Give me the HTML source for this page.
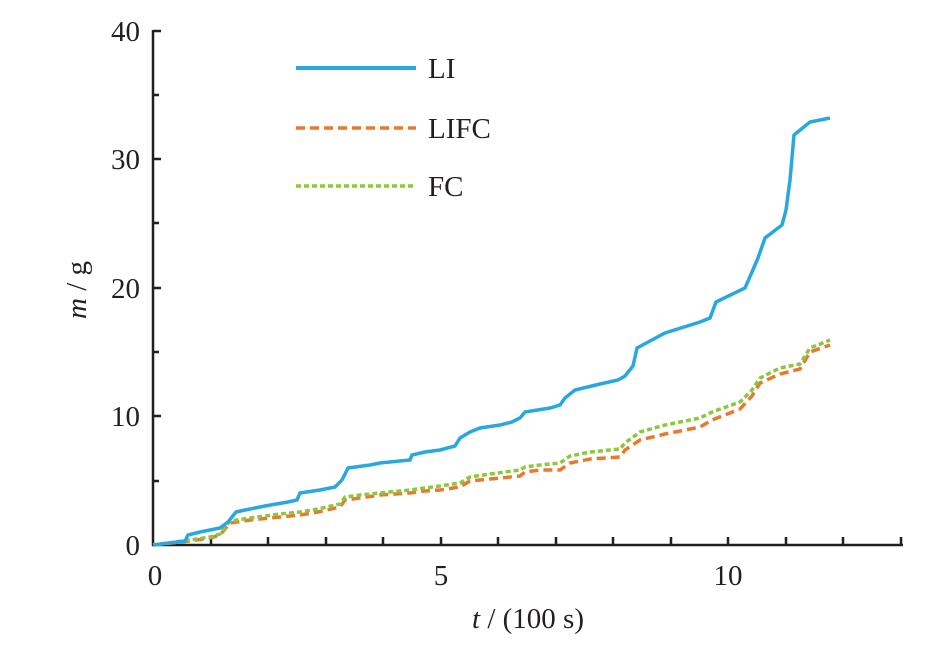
<!DOCTYPE html>
<html><head><meta charset="utf-8"><style>
body{margin:0;background:#fff}
text{font-family:"Liberation Serif",serif;fill:#231f20}
</style></head><body>
<svg width="938" height="660" viewBox="0 0 938 660">
<g stroke="#231f20" stroke-width="2.5" fill="none">
<line x1="153" y1="30" x2="153" y2="546"/>
<line x1="152" y1="545" x2="903" y2="545"/>
<path d="M153 31h8M153 95h6M153 159h8M153 223h6M153 288h8M153 352h6M153 416h8M153 481h6"/>
<path d="M211 545v-8M268 545v-8M326 545v-8M383 545v-8M441 545v-8M498 545v-8M556 545v-8M613 545v-8M671 545v-8M728 545v-8M786 545v-8M843 545v-8M901 545v-8"/>
</g>
<g font-size="29" text-anchor="end">
<text x="140" y="41">40</text><text x="140" y="169">30</text><text x="140" y="298">20</text><text x="140" y="426">10</text><text x="140" y="555">0</text>
</g>
<g font-size="29" text-anchor="middle">
<text x="155" y="585">0</text><text x="441" y="585">5</text><text x="728" y="585">10</text>
<text x="528" y="628"><tspan font-style="italic">t</tspan> / (100 s)</text>
</g>
<text font-size="29" transform="translate(86,290) rotate(-90)" text-anchor="middle"><tspan font-style="italic">m</tspan> / g</text>
<polyline fill="none" stroke="#e87a2f" stroke-width="3.5" stroke-dasharray="9,5" points="153,545 190,541 210,538 220,535 230,523 250,520 280,517 300,515 318,512 340,507 345,500 360,498 380,495 410,493 425,491 440,490 460,487 470,481 490,479 520,476 525,472 540,470 560,470 570,463 590,459 620,457 625,450 640,440 665,434 700,427 712,420 740,409 752,396 760,383 780,374 800,369 810,352 830,345"/>
<polyline fill="none" stroke="#8dc63f" stroke-width="3.5" stroke-dasharray="5,3" points="153,545 190,540 210,537 220,534 230,521 250,518 280,514 300,512 318,509 340,504 345,497 360,495 380,493 410,490 425,488 440,486 460,483 470,477 490,474 520,470 525,467 540,465 560,463 570,456 590,452 620,449 625,443 640,432 665,425 700,418 712,412 740,402 752,390 760,378 780,368 800,364 810,348 830,340"/>
<polyline fill="none" stroke="#29a8e0" stroke-width="3.5" points="153,545 185,541 188,535 200,532 220,528 228,522 236,512 245,510 265,506 288,502 297,500 300,493 320,490 335,487 342,480 348,468 370,465 380,463 410,460 412,455 425,452 440,450 455,446 460,438 470,432 480,428 500,425 512,422 520,418 525,412 550,408 560,405 565,398 575,390 600,384 618,380 625,376 633,366 637,348 665,333 700,322 710,318 716,302 745,288 752,272 758,258 765,238 782,225 786,210 790,180 794,135 810,122 830,118"/>
<line x1="296" y1="68" x2="416" y2="68" stroke="#29a8e0" stroke-width="4"/>
<line x1="296" y1="128" x2="416" y2="128" stroke="#e87a2f" stroke-width="3.5" stroke-dasharray="9,5"/>
<line x1="296" y1="186" x2="416" y2="186" stroke="#8dc63f" stroke-width="3.5" stroke-dasharray="5,3"/>
<g font-size="29"><text x="428" y="78">LI</text><text x="428" y="138">LIFC</text><text x="428" y="196">FC</text></g>
</svg>
</body></html>
